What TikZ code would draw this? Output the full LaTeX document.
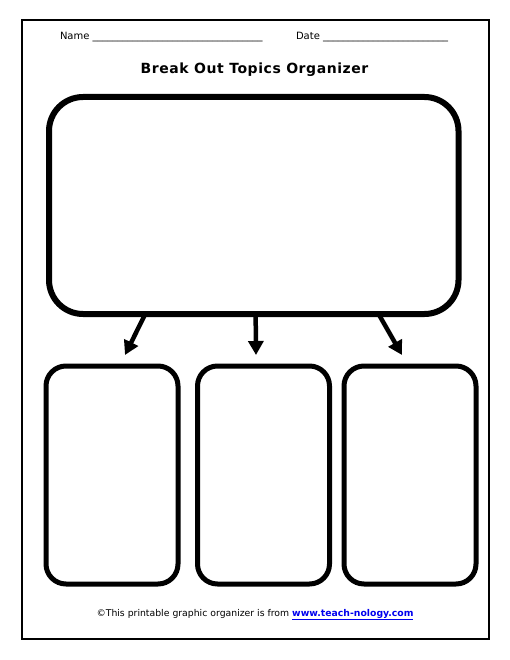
\documentclass[tikz,border=0pt]{standalone}
\usepackage{fontspec}
\setmainfont{DejaVu Sans}
\usetikzlibrary{arrows.meta}
\definecolor{linkblue}{RGB}{0,0,238}

\begin{document}
\begin{tikzpicture}[x=1pt,y=-1pt]
				\tikzstyle{every node}+=[inner sep=0pt, outer sep=0pt]
				\tikzstyle{mainbox}=[draw, line width=6pt, rounded corners=34pt, minimum width=409.5pt, minimum height=217pt]
				\tikzstyle{topicbox}=[draw, line width=5pt, rounded corners=20pt, minimum width=132pt, minimum height=218pt]
				\tikzstyle{arrow}=[line width=4.5pt, -{Triangle[width=15pt,length=14pt]}]
				\useasboundingbox (0,0) rectangle (510,660);
				\draw [black, line width=2pt] (21.5,20.5) rectangle (488.5,638.5);
				\node [anchor=base west, font=\fontsize{10}{12}\selectfont] (name) at (60,40) {Name \_\_\_\_\_\_\_\_\_\_\_\_\_\_\_\_\_\_\_\_\_\_\_\_\_\_\_\_\_\_\_\_\_\_};
				\node [anchor=base west, font=\fontsize{10}{12}\selectfont] (date) at (296,40) {Date \_\_\_\_\_\_\_\_\_\_\_\_\_\_\_\_\_\_\_\_\_\_\_\_\_};
				\node [anchor=base, font=\fontsize{14}{16}\selectfont\bfseries\addfontfeature{LetterSpace=4}] (title) at (254.5,74) {Break Out Topics Organizer};
				\node [mainbox] (main) at (253.75,205.5) {};
				\node [topicbox] (topicL) at (112,475) {};
				\node [topicbox] (topicM) at (263.5,475) {};
				\node [topicbox] (topicR) at (410,475) {};
				\coordinate (tipL) at (125,355);
				\coordinate (tipM) at (256,355);
				\coordinate (tipR) at (402,355);
				\draw [arrow] (main.-135) -- (tipL);
				\draw [arrow] (main.-89) -- (tipM);
				\draw [arrow] (main.-41) -- (tipR);
				\node [anchor=base, font=\fontsize{9.3}{12}\selectfont] (credit) at (255,616) {©This printable graphic organizer is from \textcolor{linkblue}{\bfseries\underline{www.teach-nology.com}}};
			\end{tikzpicture}
\end{document}
